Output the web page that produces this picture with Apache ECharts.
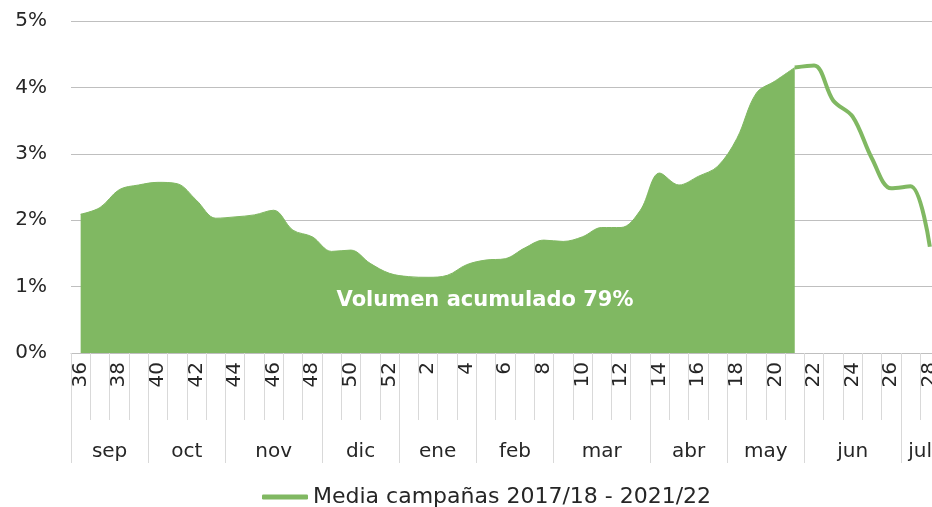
<!DOCTYPE html>
<html>
<head>
<meta charset="utf-8">
<script src="https://cdn.jsdelivr.net/npm/echarts@6/dist/echarts.min.js"></script>
<style>
html,body{margin:0;padding:0;background:#fff;}
#chart{width:932px;height:507px;}
</style>
</head>
<body>
<div id="chart"></div>
<script>
// ---- data ----
const weeks = ['36','37','38','39','40','41','42','43','44','45','46','47','48','49','50','51','52',
  '1','2','3','4','5','6','7','8','9','10','11','12','13','14','15','16','17','18','19','20','21',
  '22','23','24','25','26','27','28'];
const media = [2.09,2.19,2.46,2.53,2.57,2.55,2.30,2.03,2.05,2.08,2.15,1.85,1.75,1.53,1.55,1.35,1.20,
  1.15,1.14,1.17,1.33,1.40,1.42,1.58,1.70,1.68,1.75,1.89,1.89,2.15,2.71,2.53,2.66,2.81,3.23,3.91,4.10,4.30,
  4.33,3.80,3.56,2.93,2.48,2.51,1.60];
const months = ['sep','oct','nov','dic','ene','feb','mar','abr','may','jun','jul'];
const monthWeeks = [4,4,5,4,4,4,5,4,4,5,2];
const cutWeek = '21';
const seriesName = 'Media campañas 2017/18 - 2021/22';
const annotation = 'Volumen acumulado 79%';

// ---- derived ----
const cutIndex = weeks.indexOf(cutWeek);
const areaData = media.map((v,i)=> i<=cutIndex ? v : null);
const lineData = media.map((v,i)=> i>=cutIndex ? v : null);

// month axis: half-week points (boundaryGap false), 2*N+1 points
const N = weeks.length;
const monthAxisData = new Array(2*N+1).fill('');
const boundarySet = new Set();
let acc = 0;
boundarySet.add(0);
months.forEach((m,k)=>{
  const start = acc, end = acc + monthWeeks[k];
  monthAxisData[start+end] = m;
  boundarySet.add(2*end);
  acc = end;
});

const FONT = 'DejaVu Sans';
const TXT = '#262626';
const GREEN = '#80b862';

const chart = echarts.init(document.getElementById('chart'), null, {renderer:'canvas'});
chart.setOption({
  backgroundColor:'#fff',
  animation:false,
  grid:{left:71, width:868.5, top:21, bottom:154, containLabel:false, outerBoundsMode:'none'},
  legend:{
    data:[{name:seriesName, icon:'roundRect'}],
    left:257, top:481,
    itemWidth:46, itemHeight:5,
    textStyle:{fontFamily:FONT, fontSize:22, color:TXT}
  },
  xAxis:[{
    type:'category', data:weeks, boundaryGap:true,
    axisLine:{show:true, lineStyle:{color:'#bfbfbf', width:1}},
    axisTick:{show:true, interval:0, length:67, lineStyle:{color:'#d9d9d9', width:1}},
    axisLabel:{interval:1, rotate:90, margin:9, fontFamily:FONT, fontSize:20, color:TXT}
  },{
    type:'category', data:monthAxisData, boundaryGap:false, position:'bottom',
    axisLine:{show:false},
    axisTick:{show:true, length:110, interval:(idx)=>boundarySet.has(idx), lineStyle:{color:'#d9d9d9', width:1}},
    axisLabel:{interval:0, margin:89, fontFamily:FONT, fontSize:20, color:TXT}
  }],
  yAxis:{
    type:'value', min:0, max:5, interval:1,
    axisLine:{show:false}, axisTick:{show:false},
    splitLine:{lineStyle:{color:'#bfbfbf', width:1}},
    axisLabel:{formatter:'{value}%', margin:24, fontFamily:FONT, fontSize:20, color:TXT}
  },
  series:[{
    name:'acumulado', type:'line', data:areaData, smooth:0.35, showSymbol:false,
    lineStyle:{color:GREEN, width:1}, areaStyle:{color:GREEN, opacity:1},
    itemStyle:{color:GREEN}, z:2
  },{
    name:seriesName, type:'line', data:lineData, smooth:0.35, showSymbol:false,
    lineStyle:{color:GREEN, width:4}, itemStyle:{color:GREEN}, z:3
  }],
  graphic:[{
    type:'text', x:485, y:301, z:100, zlevel:0,
    style:{text:annotation, fill:'#ffffff', fontFamily:FONT, fontWeight:'bold', fontSize:21, align:'center', verticalAlign:'middle'}
  }]
});
</script>
</body>
</html>
